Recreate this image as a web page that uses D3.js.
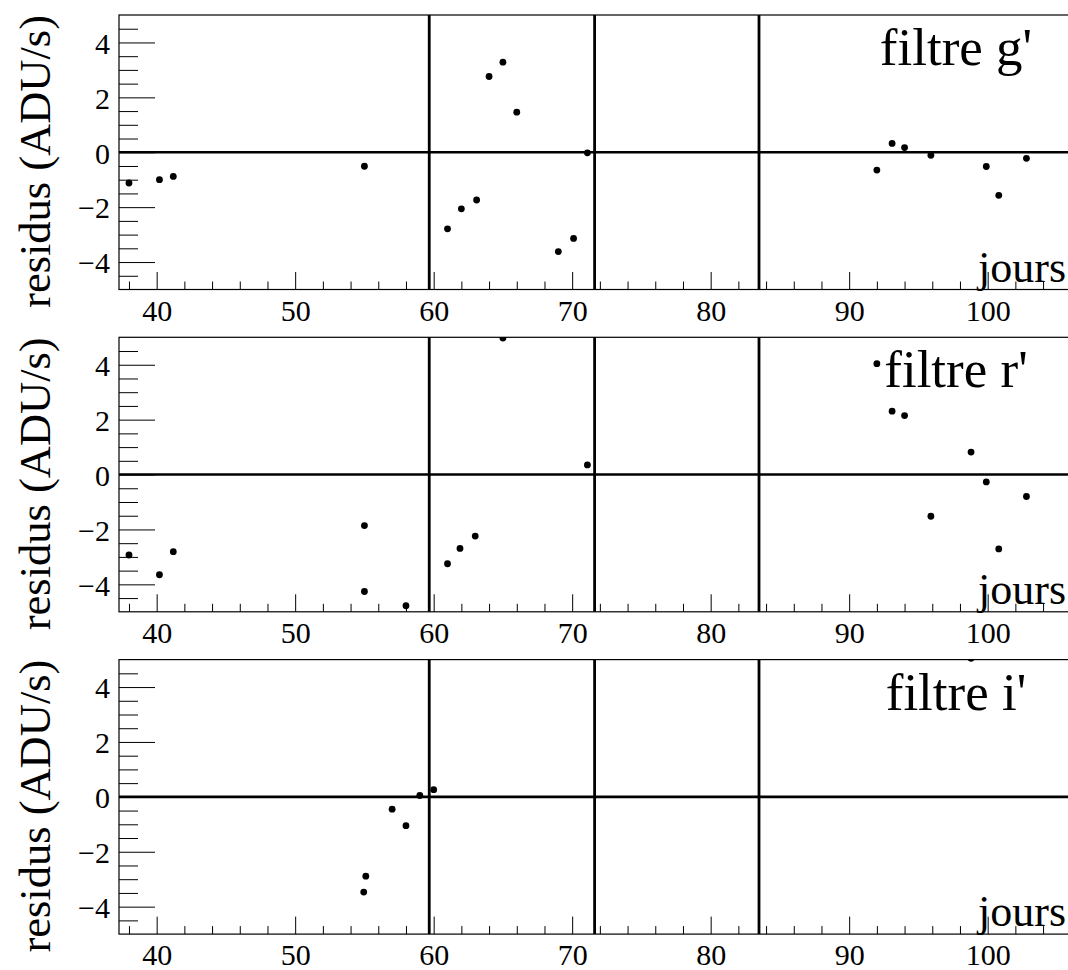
<!DOCTYPE html>
<html>
<head>
<meta charset="utf-8">
<script src="https://cdn.jsdelivr.net/npm/d3@7"></script>
<style>
  html, body { margin: 0; padding: 0; background: #fff; overflow: hidden; }
  svg { display: block; }
  svg text { font-family: "Liberation Serif", "Times New Roman", serif !important; }
</style>
</head>
<body>
<div id="chart"></div>
<script>
// ---- data ----
const panelLabels = ["filtre g'", "filtre r'", "filtre i'"];

const gDays  = [38.0, 40.2, 41.2, 55.0, 61.0, 62.0, 63.1, 64.0, 65.0, 66.0, 69.0, 70.1, 71.1, 92.0, 93.1, 94.0, 95.9, 99.9, 100.8, 102.8];
const gResid = [-1.12, -1.0, -0.88, -0.51, -2.79, -2.06, -1.74, 2.76, 3.28, 1.46, -3.62, -3.14, -0.02, -0.65, 0.32, 0.17, -0.11, -0.52, -1.57, -0.22];

const rDays  = [38.0, 40.2, 41.2, 55.0, 55.0, 58.0, 61.0, 61.9, 63.0, 65.0, 71.1, 92.0, 93.1, 94.0, 95.9, 98.8, 99.9, 100.8, 102.8];
const rResid = [-2.93, -3.65, -2.81, -1.86, -4.26, -4.78, -3.25, -2.69, -2.24, 4.97, 0.35, 4.04, 2.31, 2.15, -1.52, 0.82, -0.27, -2.71, -0.80];

const iDays  = [54.95, 55.1, 57.0, 58.0, 59.0, 60.0, 98.8];
const iResid = [-3.47, -2.89, -0.45, -1.05, 0.05, 0.26, 5.05];

const separatorDays = [59.68, 71.62, 83.49];

const xMajorTicks = [40, 50, 60, 70, 80, 90, 100];
const xMinorTicks = [38, 42, 44, 46, 48, 52, 54, 56, 58, 62, 64, 66, 68, 72, 74, 76, 78, 82, 84, 86, 88, 92, 94, 96, 98, 102, 104, 106];
const yMajorTicks = [-4, -2, 0, 2, 4];
const yMinorTicks = [-4.5, -3.5, -3, -2.5, -1.5, -1, -0.5, 0.5, 1, 1.5, 2.5, 3, 3.5, 4.5];

const xDomain = [37.28, 106.45];
const yDomain = [-5, 5];

const yTitle = "residus (ADU/s)";
const xTitle = "jours";

// ---- layout ----
const W = 1068, H = 970;
const left = 119, right = 1077;
const panelH = 274.5, panelStep = 322.3, firstTop = 15;
const FONT = '"Liberation Serif", "Times New Roman", serif';

const svg = d3.select("#chart").append("svg")
  .attr("width", W).attr("height", H);

const x = d3.scaleLinear().domain(xDomain).range([left, right]);

const series = [
  { days: gDays, resid: gResid },
  { days: rDays, resid: rResid },
  { days: iDays, resid: iResid }
];

series.forEach((s, i) => {
  const top = firstTop + i * panelStep;
  const bottom = top + panelH;
  const y = d3.scaleLinear().domain(yDomain).range([bottom, top]);
  const g = svg.append("g");

  const clipId = "clip" + i;
  svg.append("clipPath").attr("id", clipId)
    .append("rect").attr("x", left).attr("y", top).attr("width", right - left).attr("height", panelH);

  // y axis ticks (inward)
  const yMinor = d3.axisLeft(y).tickValues(yMinorTicks).tickSize(-19).tickFormat("");
  const yMajor = d3.axisLeft(y).tickValues(yMajorTicks).tickSize(-36).tickPadding(9).tickFormat(d3.format("d"));
  const gy1 = g.append("g").attr("transform", `translate(${left},0)`).call(yMinor);
  const gy2 = g.append("g").attr("transform", `translate(${left},0)`).call(yMajor);
  [gy1, gy2].forEach(a => { a.attr("font-family", null); a.select(".domain").remove(); a.selectAll("line").attr("stroke", "#000").attr("stroke-width", 1); });
  gy2.selectAll("text").attr("font-size", 30).attr("fill", "#000").attr("dy", "0.36em")
    .style("font-family", FONT);

  // x axis ticks (inward)
  const xMinor = d3.axisBottom(x).tickValues(xMinorTicks).tickSize(-8).tickFormat("");
  const xMajor = d3.axisBottom(x).tickValues(xMajorTicks).tickSize(-17.5).tickPadding(10).tickFormat(d3.format("d"));
  const gx1 = g.append("g").attr("transform", `translate(0,${bottom})`).call(xMinor);
  const gx2 = g.append("g").attr("transform", `translate(0,${bottom})`).call(xMajor);
  [gx1, gx2].forEach(a => { a.attr("font-family", null); a.select(".domain").remove(); a.selectAll("line").attr("stroke", "#000").attr("stroke-width", 1); });
  gx2.selectAll("text").attr("font-size", 30).attr("fill", "#000")
    .style("font-family", FONT);

  // frame
  g.append("rect").attr("x", left).attr("y", top).attr("width", right - left).attr("height", panelH)
    .attr("fill", "none").attr("stroke", "#000").attr("stroke-width", 1.2);

  // zero line
  g.append("line").attr("x1", left).attr("x2", right).attr("y1", y(0)).attr("y2", y(0))
    .attr("stroke", "#000").attr("stroke-width", 2.6);

  // separator lines
  g.selectAll("line.sep").data(separatorDays).enter().append("line").attr("class", "sep")
    .attr("x1", d => x(d)).attr("x2", d => x(d)).attr("y1", top).attr("y2", bottom)
    .attr("stroke", "#000").attr("stroke-width", 2.8);

  // points
  const pts = s.days.map((d, k) => ({ d: d, v: s.resid[k] }));
  g.append("g").attr("clip-path", `url(#${clipId})`)
    .selectAll("circle").data(pts).enter().append("circle")
    .attr("cx", p => x(p.d)).attr("cy", p => y(p.v)).attr("r", 3.4).attr("fill", "#000");

  // panel label
  g.append("text").attr("x", 956).attr("y", top + 50).attr("text-anchor", "middle")
    .attr("font-size", 53).attr("fill", "#000").style("font-family", FONT).text(panelLabels[i]);

  // x title
  g.append("text").attr("x", 1066).attr("y", bottom - 8).attr("text-anchor", "end")
    .attr("font-size", 44).attr("fill", "#000").style("font-family", FONT).text(xTitle);

  // y title
  g.append("text").attr("transform", `translate(50,${top}) rotate(-90)`).attr("text-anchor", "end")
    .attr("font-size", 44.5).attr("fill", "#000").style("font-family", FONT).text(yTitle);
});
</script>
</body>
</html>
